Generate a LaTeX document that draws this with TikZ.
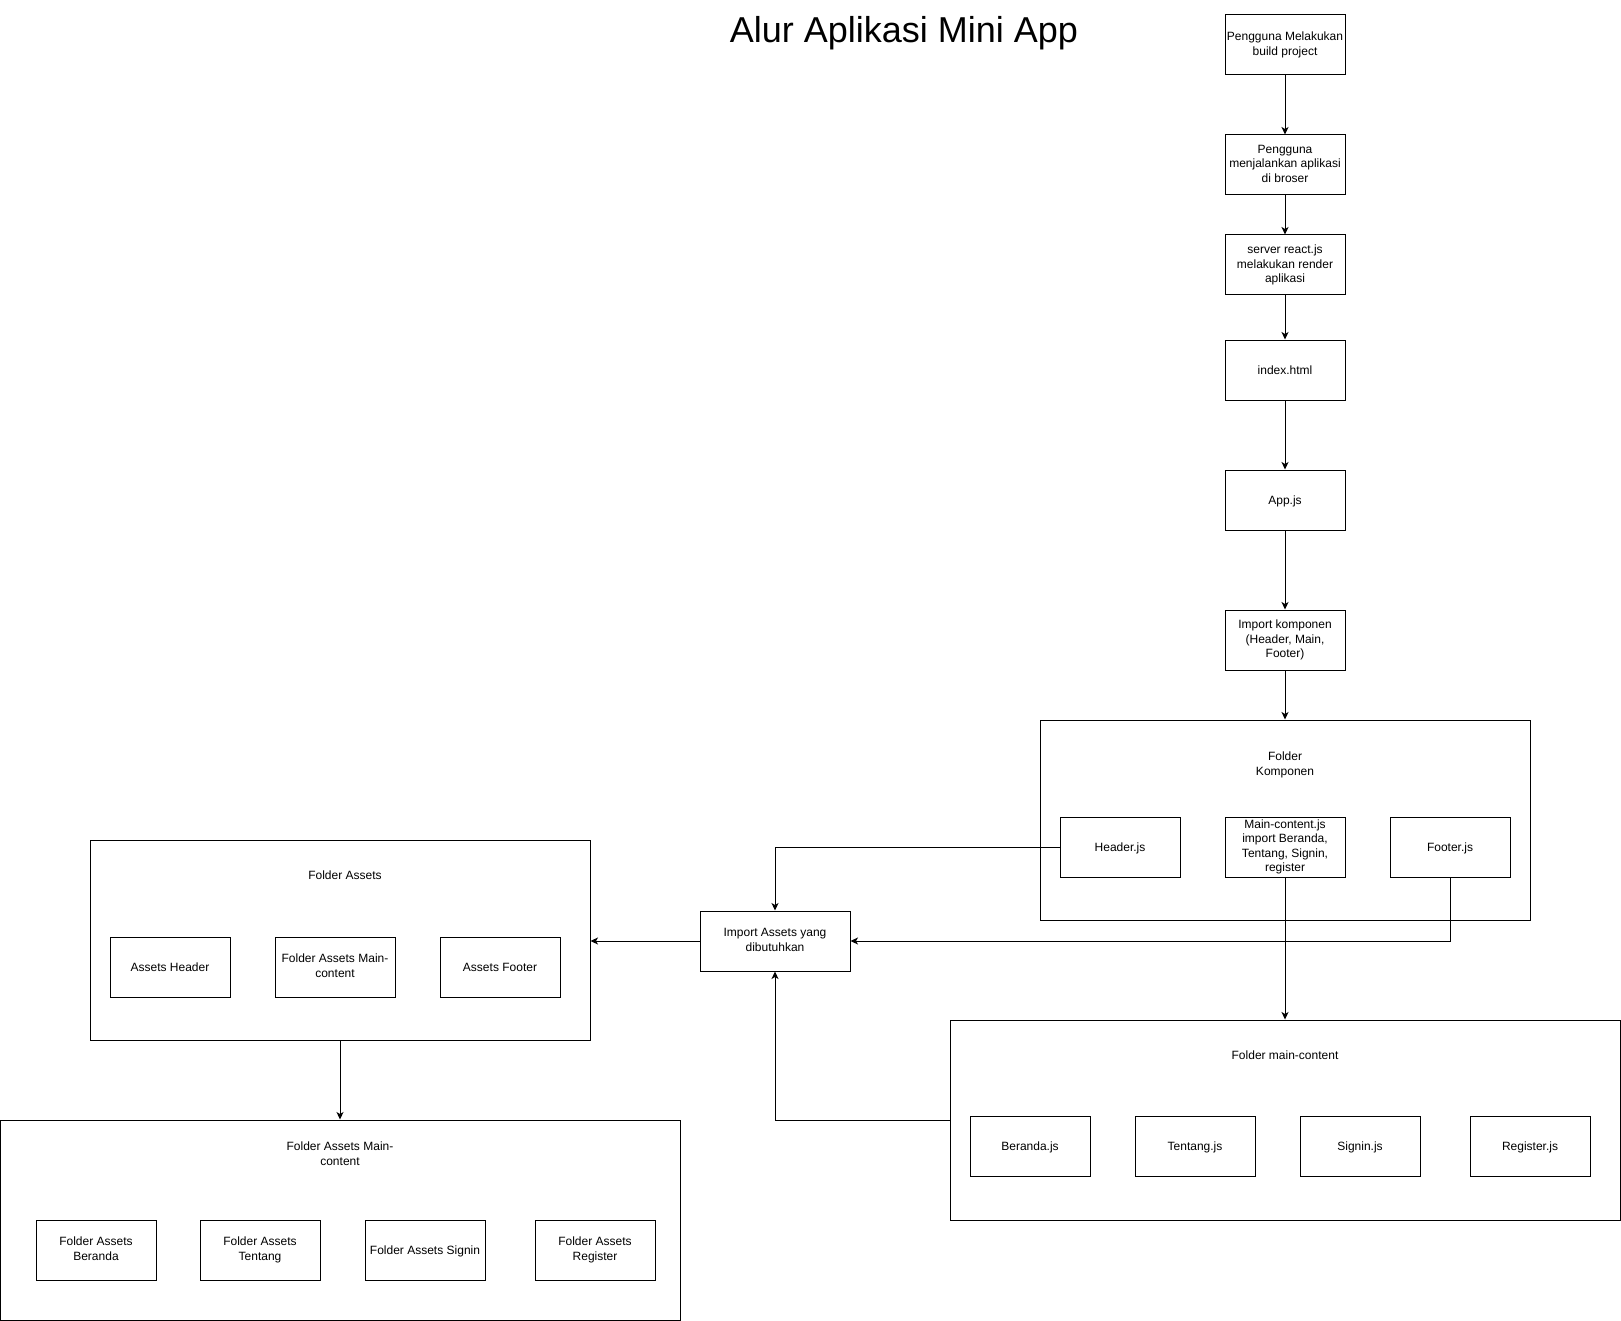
\documentclass[tikz,border=0pt]{standalone}
\usepackage{fontspec}
\setmainfont{Liberation Sans}
\usetikzlibrary{arrows.meta}
\newcommand\bstrut{\rule[-2.4pt]{0pt}{14.4pt}}
\begin{document}
\begin{tikzpicture}[x=1pt,y=-1pt,line width=1pt,
  box/.style={draw, minimum width=120pt, minimum height=60pt, inner sep=0pt, align=center, font=\fontsize{12}{14.4}\selectfont,
    execute at begin node=\bstrut, execute at end node=\bstrut},
  container/.style={draw, inner sep=0pt},
  lbl/.style={align=center, inner sep=0pt, font=\fontsize{12}{14.4}\selectfont,
    execute at begin node=\bstrut, execute at end node=\bstrut},
  arr/.style={-{Stealth[length=7.5pt,width=7pt,inset=2pt]}}
]
\useasboundingbox (0,0) rectangle (1621,1321);
\node[font=\fontsize{36}{43}\selectfont, anchor=base, inner sep=0pt] (title) at (904,43) {Alur Aplikasi Mini App};

% main vertical flow
\node[box] (b1) at (1285,45) {Pengguna Melakukan\\build project};
\node[box] (b2) at (1285,165) {Pengguna\\menjalankan aplikasi\\di broser};
\node[box] (b3) at (1285,265) {server react.js\\melakukan render\\aplikasi};
\node[box] (b4) at (1285,370) {index.html};
\node[box] (b5) at (1285,500) {App.js};
\node[box] (b6) at (1285,640) {Import komponen\\(Header, Main,\\Footer)};

% Folder Komponen
\node[container, minimum width=490pt, minimum height=200pt] (fk) at (1285,820) {};
\node[lbl] (lk) at (1285,765) {Folder\\Komponen};
\node[box] (hj) at (1120,847) {Header.js};
\node[box] (mj) at (1285,847) {Main-content.js\\import Beranda,\\Tentang, Signin,\\register};
\node[box] (fj) at (1450,847) {Footer.js};

% Import Assets
\node[box, minimum width=150pt] (imp) at (775,941) {Import Assets yang\\dibutuhkan};

% Folder Assets
\node[container, minimum width=500pt, minimum height=200pt] (fa) at (340,940) {};
\node[lbl] (la) at (345,875) {Folder Assets};
\node[box] (ah) at (170,967) {Assets Header};
\node[box] (am) at (335,967) {Folder Assets Main-\\content};
\node[box] (af) at (500,967) {Assets Footer};

% Folder Assets Main-content
\node[container, minimum width=679.5pt, minimum height=200pt] (fam) at (340.25,1220) {};
\node[lbl] (lam) at (340,1155) {Folder Assets Main-\\content};
\node[box] (fab) at (96,1250) {Folder Assets\\Beranda};
\node[box] (fat) at (260,1250) {Folder Assets\\Tentang};
\node[box] (fas) at (425,1250) {Folder Assets Signin};
\node[box] (far) at (595,1250) {Folder Assets\\Register};

% Folder main-content
\node[container, minimum width=670pt, minimum height=200pt] (fm) at (1285,1120) {};
\node[lbl] (lm) at (1285,1055) {Folder main-content};
\node[box] (bj) at (1030,1146) {Beranda.js};
\node[box] (tj) at (1195,1146) {Tentang.js};
\node[box] (sj) at (1360,1146) {Signin.js};
\node[box] (rj) at (1530,1146) {Register.js};

% connectors
\draw[arr] (b1) -- (b2);
\draw[arr] (b2) -- (b3);
\draw[arr] (b3) -- (b4);
\draw[arr] (b4) -- (b5);
\draw[arr] (b5) -- (b6);
\draw[arr] (b6) -- (fk);
\draw[arr] (hj.west) -| (imp.north);
\draw[arr] (fj.south) |- (imp.east);
\draw[arr] (mj.south) -- (fm.north);
\draw[arr] (imp.west) -- (imp.west -| fa.east);
\draw[arr] (fa.south) -- (fa.south |- fam.north);
\draw[arr] (fm.west) -| (imp.south);
\end{tikzpicture}
\end{document}
